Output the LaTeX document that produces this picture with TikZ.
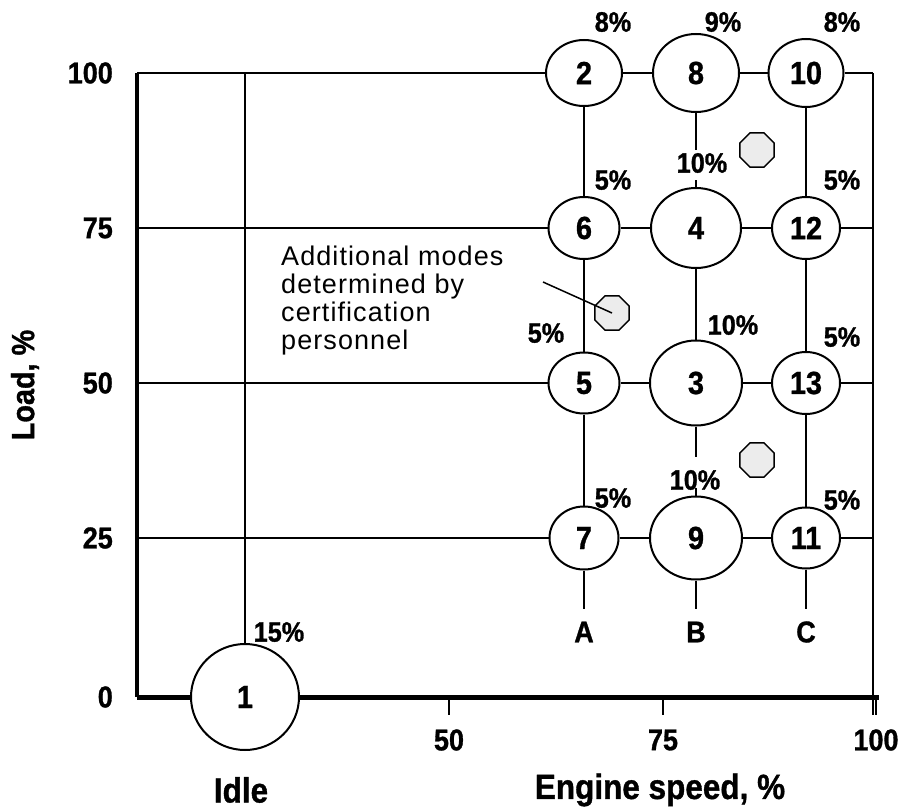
\documentclass[tikz,border=0pt]{standalone}
\usepackage{fontspec}
\setmainfont{Liberation Sans}
\newfontfamily\labfont[FakeStretch=0.9, FakeBold=1]{Liberation Sans}
\newfontfamily\notefont[LetterSpace=4]{Liberation Sans}
\usetikzlibrary{positioning, shapes.geometric}

\begin{document}
\begin{tikzpicture}[x=1pt, y=-1pt,
    mode/.style={ellipse, draw, fill=white, line width=2pt, inner sep=0pt,
                 font=\labfont\bfseries\fontsize{32}{34}\selectfont},
    extra/.style={regular polygon, regular polygon sides=8, draw, line width=1.5pt,
                  fill=gray!15, minimum size=37, inner sep=0pt},
    pct/.style={font=\labfont\bfseries\fontsize{28}{30}\selectfont, inner sep=0pt},
    ticklab/.style={font=\labfont\bfseries\fontsize{30}{32}\selectfont, inner sep=0pt},
    gridline/.style={line width=2pt}]
        \useasboundingbox (0,0) rectangle (914,811);
        % modes
        \node[mode, minimum width=108, minimum height=106] (c1) at (245,697) {1};
        \node[mode, minimum width=76, minimum height=66] (c2) at (584,73) {2};
        \node[mode, minimum width=86, minimum height=78] (c8) at (696,73) {8};
        \node[mode, minimum width=75, minimum height=68] (c10) at (806,73) {10};
        \node[mode, minimum width=71, minimum height=62] (c6) at (584,228) {6};
        \node[mode, minimum width=90, minimum height=80] (c4) at (696,228) {4};
        \node[mode, minimum width=68, minimum height=62] (c12) at (806,228) {12};
        \node[mode, minimum width=71, minimum height=61] (c5) at (584,383) {5};
        \node[mode, minimum width=92, minimum height=85] (c3) at (696,383) {3};
        \node[mode, minimum width=68, minimum height=62] (c13) at (806,383) {13};
        \node[mode, minimum width=69, minimum height=63] (c7) at (584,538) {7};
        \node[mode, minimum width=92, minimum height=83] (c9) at (696,538) {9};
        \node[mode, minimum width=68, minimum height=61] (c11) at (806,538) {11};
        \node[extra] (m1) at (757,150) {};
        \node[extra] (m2) at (612,313) {};
        \node[extra] (m3) at (757,460) {};
        % frame
        \coordinate (tl) at (137,73);
        \coordinate (bl) at (137,697);
        \coordinate (tr) at (873,73);
        \coordinate (trb) at (873,715);
        \coordinate (br) at (879,697);
        \draw[line width=4pt] (tl) -- (bl);
        \draw[line width=5pt] (bl) -- (c1.west) (c1.east) -- (br);
        \draw[line width=2.5pt] (tr) -- (trb);
        \draw[gridline] (245,73) -- (c1.north);
        \foreach \y/\a/\b/\c in {73/c2/c8/c10, 228/c6/c4/c12, 383/c5/c3/c13, 538/c7/c9/c11}
          \draw[gridline] (137,\y) -- (\a.west) (\a.east) -- (\b.west)
                          (\b.east) -- (\c.west) (\c.east) -- (873,\y);
        % axis ticks
        \foreach \x/\t in {449/50, 663/75, 876/100} {
          \draw[gridline] (\x,697) -- (\x,715);
          \node[ticklab] (xt\t) at (\x,740) {\t};
        }
        \foreach \y/\t in {73/100, 228/75, 383/50, 538/25, 697/0}
          \node[ticklab, anchor=east] (yt\t) at (113,\y) {\t};
        % columns
        \foreach \x/\t in {584/A, 696/B, 806/C}
          \node[ticklab, inner sep=12pt] (col\t) at (\x,632) {\t};
        \draw[gridline] (c2) -- (c6) -- (c5) -- (c7) -- (colA) -- (colA.south);
        \draw[gridline] (c10) -- (c12) -- (c13) -- (c11) -- (colC) -- (colC.south);
        \coordinate (b1) at (696,150);
        \coordinate (b2) at (696,180);
        \coordinate (b3) at (696,457);
        \coordinate (b4) at (696,488);
        \draw[gridline] (c8) -- (b1) (b2) -- (c4) -- (c3) -- (b3)
                        (b4) -- (c9) -- (colB) -- (colB.south);
        % shares
        \foreach \x/\y/\t [count=\i] in {613/22/8, 723/22/9, 842/22/8, 613/180/5,
            702/163/10, 842/180/5, 546/333/5, 733/325/10, 842/337/5,
            613/498/5, 695/480/10, 842/500/5, 279/632/15}
          \node[pct] (pct\i) at (\x,\y) {\t\%};
        % note
        \node[font=\notefont\fontsize{27}{28}\selectfont, align=left,
              anchor=north west, inner sep=0pt] (note) at (281,246)
          {Additional modes\\determined by\\certification\\personnel};
        \coordinate (notetip) at (543,282);
        \draw[line width=1.5pt] (notetip) -- (m2.center);
        % axis titles
        \node[font=\labfont\bfseries\fontsize{35}{37}\selectfont, inner sep=0pt] (idle) at (241,790) {Idle};
        \node[font=\labfont\bfseries\fontsize{35}{37}\selectfont, inner sep=0pt] (xlab) at (660,790) {Engine speed, \%};
        \node[font=\labfont\bfseries\fontsize{32}{34}\selectfont, rotate=90, inner sep=0pt] (ylab) at (25,385) {Load, \%};
      \end{tikzpicture}
\end{document}
